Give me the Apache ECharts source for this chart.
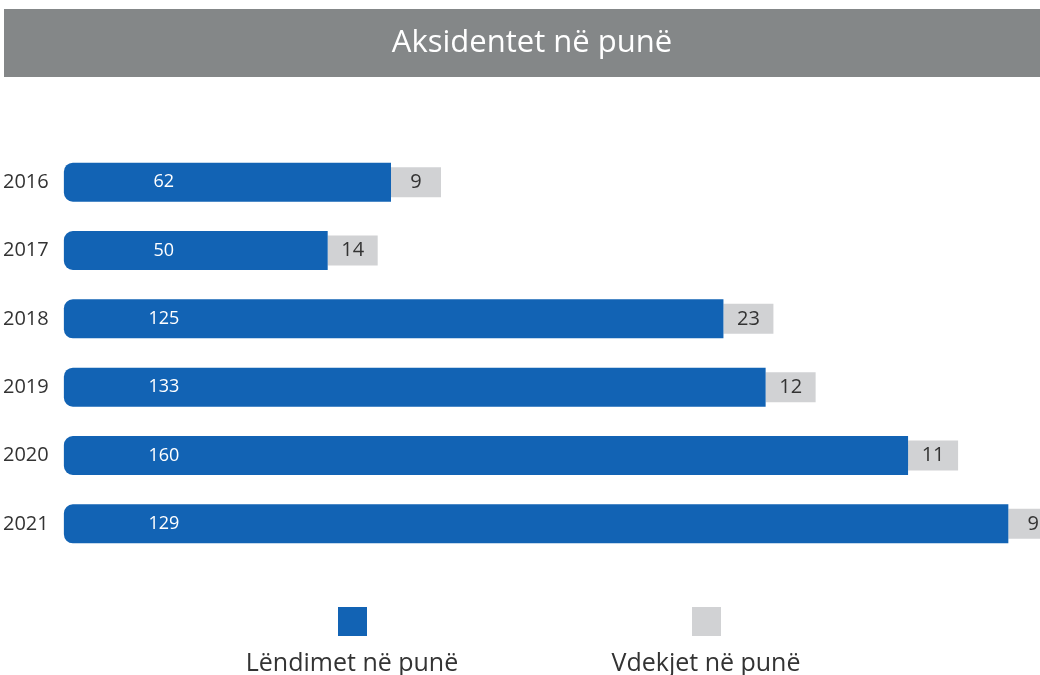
<!DOCTYPE html>
<html>
<head>
<meta charset="utf-8">
<title>Aksidentet në punë</title>
<script src="https://cdn.jsdelivr.net/npm/echarts@6/dist/echarts.min.js"></script>
<style>
  html, body { margin: 0; padding: 0; background: #fff; }
  #chart { width: 1040px; height: 675px; }
</style>
</head>
<body>
<div id="chart"></div>
<script>
// vitet
var years = ['2016', '2017', '2018', '2019', '2020', '2021'];
// lëndimet në punë (vlerat e shkruara në shirita)
var injuries = [62, 50, 125, 133, 160, 129];
// gjatësia e shiritave blu siç lexohet në figurë (2021 është vizatuar më gjatë se etiketa)
var injuryBars = [62, 50, 125, 133, 160, 179];
// vdekjet në punë
var deaths = [9, 14, 23, 12, 11, 9];

var font = '"Open Sans", sans-serif';
var blue = '#1263b4';
var grey = '#d1d2d4';

var chart = echarts.init(document.getElementById('chart'));

var option = {
  animation: false,
  textStyle: { fontFamily: font },
  graphic: [
    {
      type: 'rect',
      shape: { x: 4, y: 9, width: 1036, height: 68 },
      style: { fill: '#848788' },
      silent: true
    },
    {
      type: 'text',
      x: 532, y: 43,
      style: {
        text: 'Aksidentet në punë',
        fill: '#fff', font: '31px ' + font,
        textAlign: 'center', textVerticalAlign: 'middle'
      }
    },
    {
      type: 'text',
      x: 352, y: 664,
      style: {
        text: 'Lëndimet në punë',
        fill: '#333', font: '25px ' + font,
        textAlign: 'center', textVerticalAlign: 'middle'
      }
    },
    {
      type: 'text',
      x: 706, y: 664,
      style: {
        text: 'Vdekjet në punë',
        fill: '#333', font: '25px ' + font,
        textAlign: 'center', textVerticalAlign: 'middle'
      }
    }
  ],
  legend: [
    {
      left: 338, top: 607, padding: 0,
      icon: 'rect', itemWidth: 29, itemHeight: 29,
      formatter: function () { return ''; },
      selectedMode: false,
      data: ['Lëndimet në punë']
    },
    {
      left: 692, top: 607, padding: 0,
      icon: 'rect', itemWidth: 29, itemHeight: 29,
      formatter: function () { return ''; },
      selectedMode: false,
      data: [{ name: 'Vdekjet në punë', itemStyle: { color: grey } }]
    }
  ],
  grid: { left: 63, right: 0, top: 148, height: 410, containLabel: false },
  xAxis: {
    type: 'value', min: 0, max: 185,
    show: false
  },
  yAxis: {
    type: 'category',
    inverse: true,
    data: years,
    axisLine: { show: false },
    axisTick: { show: false },
    splitLine: { show: false },
    axisLabel: {
      align: 'center', margin: 38,
      fontSize: 20, color: '#333', fontFamily: font
    }
  },
  series: [
    {
      name: 'Lëndimet në punë',
      type: 'bar',
      barWidth: 39,
      data: injuryBars,
      itemStyle: { color: blue, borderRadius: [9, 0, 0, 9] },
      label: {
        show: true,
        position: 'insideLeft',
        distance: 0,
        formatter: function (p) { return '{v|' + injuries[p.dataIndex] + '}'; },
        rich: {
          v: { width: 200, align: 'center', color: '#fff', fontSize: 18, fontFamily: font }
        }
      },
      z: 3
    },
    {
      name: 'Vdekjet në punë',
      type: 'bar',
      barWidth: 39,
      barGap: '-100%',
      data: injuryBars,
      itemStyle: { color: 'rgba(0,0,0,0)' },
      label: {
        show: true,
        position: 'right',
        distance: 0,
        formatter: function (p) { return '{g|' + deaths[p.dataIndex] + '}'; },
        rich: {
          g: {
            width: 50, height: 30, lineHeight: 30,
            align: 'center', backgroundColor: grey,
            color: '#333', fontSize: 20, fontFamily: font
          }
        }
      },
      z: 2
    }
  ]
};

chart.setOption(option);
</script>
</body>
</html>
